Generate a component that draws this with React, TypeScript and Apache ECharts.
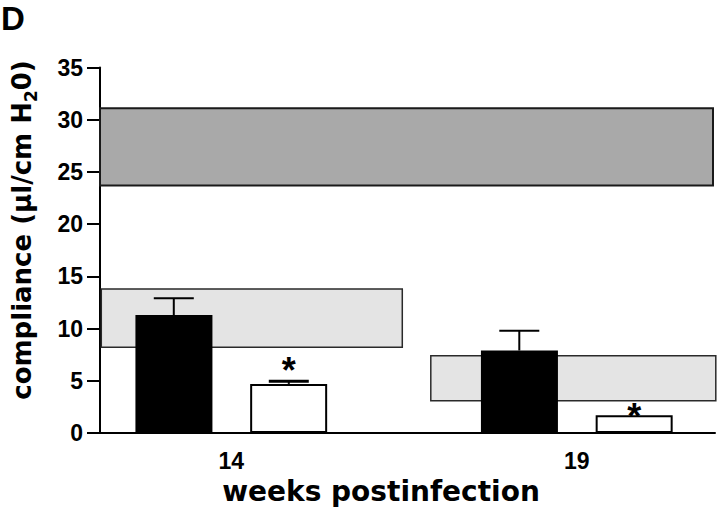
import React, { useEffect, useRef } from "react";
import * as echarts from "echarts";

// ---- data ----
const weeks = [14, 19];
const blackMeans = [11.3, 7.9];
const blackErrTop = [12.9, 9.8];
const whiteMeans = [4.7, 1.7];
const whiteErrTop: (number | null)[] = [4.95, null];
const starLevels = [6.8, 2.4];
const upperBand = [23.7, 31.1];
const lowerBandBottom = [8.2, 3.1];
const lowerBandTop = [13.8, 7.4];
const yTicks = { min: 0, max: 35, interval: 5 };

// ---- layout constants ----
const X_MIN = 12.1;
const X_MAX = 21.0;
const BAR_W = 77;
const BAR_OFF = 57.5;
const CAP_W = 40;
const BAND_SPAN_PX = [
  [-130, 171],
  [-146, 139],
];
const NUM_FONT = '"Liberation Sans", Arial, sans-serif';
const TITLE_FONT = '"DejaVu Sans", sans-serif';

export default function App() {
  const ref = useRef<HTMLDivElement>(null);
  useEffect(() => {
    if (!ref.current) return;
    const chart = echarts.init(ref.current, undefined, { renderer: "svg" });

    const errRender = (offset: number) => (params: any, api: any) => {
      const top = api.value(2);
      if (top == null || isNaN(top)) return null;
      const p0 = api.coord([api.value(0), api.value(1)]);
      const p1 = api.coord([api.value(0), top]);
      const cx = p0[0] + offset;
      return {
        type: "group",
        children: [
          {
            type: "line",
            shape: { x1: cx, y1: p0[1], x2: cx, y2: p1[1] },
            style: { stroke: "#000", lineWidth: 2 },
          },
          {
            type: "line",
            shape: { x1: cx - CAP_W / 2, y1: p1[1], x2: cx + CAP_W / 2, y2: p1[1] },
            style: { stroke: "#000", lineWidth: offset > 0 ? 3 : 2 },
          },
        ],
      };
    };

    const option: any = {
      animation: false,
      backgroundColor: "#fff",
      grid: { left: 100, right: 5, top: 67.5, bottom: 81, containLabel: false },
      xAxis: {
        type: "value",
        min: X_MIN,
        max: X_MAX,
        axisLine: { show: true, lineStyle: { color: "#000", width: 2 } },
        axisTick: { show: false },
        splitLine: { show: false },
        axisLabel: {
          customValues: weeks,
          formatter: (v: number) => String(v),
          color: "#000",
          fontSize: 23,
          fontWeight: "bold",
          fontFamily: NUM_FONT,
          margin: 16,
        },
      },
      yAxis: {
        type: "value",
        min: yTicks.min,
        max: yTicks.max,
        interval: yTicks.interval,
        axisLine: { show: true, lineStyle: { color: "#000", width: 2 } },
        axisTick: { show: true, length: 13, lineStyle: { color: "#000", width: 2 } },
        splitLine: { show: false },
        axisLabel: {
          color: "#000",
          fontSize: 23,
          fontWeight: "bold",
          fontFamily: NUM_FONT,
          margin: 17,
        },
      },
      graphic: [
        {
          type: "text",
          left: 1,
          top: 2,
          style: { text: "D", font: `bold 33px ${NUM_FONT}`, fill: "#000" },
        },
        {
          type: "text",
          x: 22,
          y: 230,
          rotation: Math.PI / 2,
          style: {
            text: "{n|compliance (μl/cm H}{s|2}{n|0)}",
            textAlign: "center",
            textVerticalAlign: "middle",
            fill: "#000",
            rich: {
              n: { fontSize: 26, fontWeight: "bold", fontFamily: TITLE_FONT, lineHeight: 34, verticalAlign: "middle", fill: "#000" },
              s: { fontSize: 17, fontWeight: "bold", fontFamily: TITLE_FONT, lineHeight: 17, verticalAlign: "bottom", fill: "#000" },
            },
          },
        },
        {
          type: "text",
          x: 381,
          y: 491,
          style: {
            text: "weeks postinfection",
            textAlign: "center",
            textVerticalAlign: "middle",
            font: `bold 28px ${TITLE_FONT}`,
            fill: "#000",
          },
        },
      ],
      series: [
        {
          type: "custom",
          name: "upper band",
          z: 1,
          data: [[upperBand[0], upperBand[1]]],
          renderItem: (params: any, api: any) => {
            const cs = params.coordSys;
            const yb = api.coord([X_MIN, api.value(0)])[1];
            const yt = api.coord([X_MIN, api.value(1)])[1];
            return {
              type: "rect",
              shape: { x: cs.x, y: yt, width: cs.width - 2, height: yb - yt },
              style: { fill: "#a9a9a9", stroke: "#1a1a1a", lineWidth: 2 },
            };
          },
        },
        {
          type: "custom",
          name: "lower bands",
          z: 1,
          data: weeks.map((w, i) => [w, lowerBandBottom[i], lowerBandTop[i]]),
          renderItem: (params: any, api: any) => {
            const i = params.dataIndex;
            const pb = api.coord([api.value(0), api.value(1)]);
            const pt = api.coord([api.value(0), api.value(2)]);
            const span = BAND_SPAN_PX[i];
            return {
              type: "rect",
              shape: { x: pb[0] + span[0], y: pt[1], width: span[1] - span[0], height: pb[1] - pt[1] },
              style: { fill: "#e4e4e4", stroke: "#2a2a2a", lineWidth: 1.5 },
            };
          },
        },
        {
          type: "bar",
          name: "black",
          z: 3,
          barWidth: BAR_W,
          barGap: "49%",
          data: weeks.map((w, i) => [w, blackMeans[i]]),
          itemStyle: { color: "#000", borderColor: "#000", borderWidth: 0 },
        },
        {
          type: "bar",
          name: "white",
          z: 3,
          barWidth: BAR_W,
          barGap: "49%",
          data: weeks.map((w, i) => [w, whiteMeans[i]]),
          itemStyle: { color: "#fff", borderColor: "#000", borderWidth: 2 },
        },
        {
          type: "custom",
          name: "black err",
          z: 2,
          data: weeks.map((w, i) => [w, blackMeans[i], blackErrTop[i]]),
          renderItem: errRender(-BAR_OFF),
        },
        {
          type: "custom",
          name: "white err",
          z: 4,
          data: weeks.map((w, i) => [w, whiteMeans[i], whiteErrTop[i] == null ? NaN : whiteErrTop[i]]),
          renderItem: errRender(BAR_OFF),
        },
        {
          type: "custom",
          name: "stars",
          z: 5,
          data: weeks.map((w, i) => [w, starLevels[i]]),
          renderItem: (params: any, api: any) => {
            const p = api.coord([api.value(0), api.value(1)]);
            return {
              type: "text",
              x: p[0] + BAR_OFF,
              y: p[1] + 9,
              style: {
                text: "*",
                textAlign: "center",
                textVerticalAlign: "middle",
                font: `bold 36px ${NUM_FONT}`,
                fill: "#000",
              },
            };
          },
        },
      ],
    };
    chart.setOption(option);
    return () => chart.dispose();
  }, []);
  return <div ref={ref} style={{ width: 720, height: 514, position: "absolute", left: 0, top: 0 }} />;
}
